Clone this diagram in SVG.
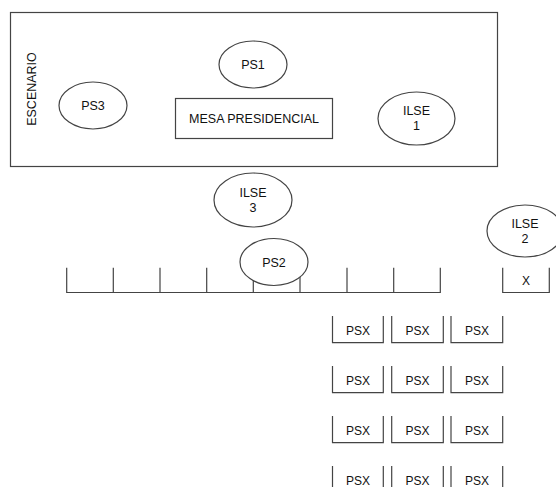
<svg xmlns="http://www.w3.org/2000/svg" width="556" height="487" viewBox="0 0 556 487">
<style>
.s{fill:none;stroke:#444;stroke-width:1.2}
.e{fill:#fff;stroke:#444;stroke-width:1.2}
.t{font-family:"Liberation Sans",Arial,sans-serif;font-size:12.5px;fill:#111;text-anchor:middle}
.p{font-family:"Liberation Sans",Arial,sans-serif;font-size:12px;fill:#111;text-anchor:middle}
</style>
<rect width="556" height="487" fill="#fff"/>
<g id="escenario">
<rect class="s" x="10.5" y="12.5" width="487" height="154"/>
<text class="t" transform="translate(36,89) rotate(-90)" font-size="12px">ESCENARIO</text>
</g>
<g id="ps3"><ellipse class="e" cx="93" cy="105.5" rx="34" ry="23.5"/><text class="t" x="93" y="110">PS3</text></g>
<g id="ps1"><ellipse class="e" cx="253" cy="64.5" rx="34" ry="23.5"/><text class="t" x="253" y="69">PS1</text></g>
<g id="mesa"><rect class="s" x="175.5" y="98.5" width="157" height="40"/><text class="t" x="254" y="123" font-size="13px">MESA PRESIDENCIAL</text></g>
<g id="ilse1"><ellipse class="e" cx="416.5" cy="118.5" rx="38.5" ry="26.5"/><text class="t" x="416.5" y="115">ILSE</text><text class="t" x="416.5" y="130">1</text></g>
<g id="row">
<path class="s" d="M66.7,267.7V292.5H440.3V267.7M113.3,267.7V292.5M160,267.7V292.5M206.7,267.7V292.5M253.3,267.7V292.5M300,267.7V292.5M347,267.7V292.5M393.7,267.7V292.5"/>
</g>
<g id="ilse3"><ellipse class="e" cx="253" cy="200" rx="39" ry="27"/><text class="t" x="253" y="197">ILSE</text><text class="t" x="253" y="212">3</text></g>
<g id="ps2"><ellipse class="e" cx="274" cy="262" rx="34" ry="23.5"/><text class="t" x="274" y="266.5">PS2</text></g>
<g id="ilse2"><ellipse class="e" cx="525" cy="231" rx="38" ry="26"/><text class="t" x="525" y="228">ILSE</text><text class="t" x="525" y="243">2</text></g>
<g id="x"><path class="s" d="M502.7,267.7V292.5H549.3V267.7"/><text class="p" x="526" y="284.5">X</text></g>
<g id="psx">
<g id="psx-r1">
<path class="s" d="M332.5,316V342.7H383.3V316M391.7,316V342.7H443.3V316M451,316V342.7H502.7V316"/>
<text class="p" x="358" y="334.5">PSX</text><text class="p" x="417.5" y="334.5">PSX</text><text class="p" x="477" y="334.5">PSX</text>
</g>
<g id="psx-r2">
<path class="s" d="M332.5,366V392.7H383.3V366M391.7,366V392.7H443.3V366M451,366V392.7H502.7V366"/>
<text class="p" x="358" y="384.5">PSX</text><text class="p" x="417.5" y="384.5">PSX</text><text class="p" x="477" y="384.5">PSX</text>
</g>
<g id="psx-r3">
<path class="s" d="M332.5,416V442.7H383.3V416M391.7,416V442.7H443.3V416M451,416V442.7H502.7V416"/>
<text class="p" x="358" y="434.5">PSX</text><text class="p" x="417.5" y="434.5">PSX</text><text class="p" x="477" y="434.5">PSX</text>
</g>
<g id="psx-r4">
<path class="s" d="M332.5,466V492.7H383.3V466M391.7,466V492.7H443.3V466M451,466V492.7H502.7V466"/>
<text class="p" x="358" y="484.5">PSX</text><text class="p" x="417.5" y="484.5">PSX</text><text class="p" x="477" y="484.5">PSX</text>
</g>
</g>
</svg>
